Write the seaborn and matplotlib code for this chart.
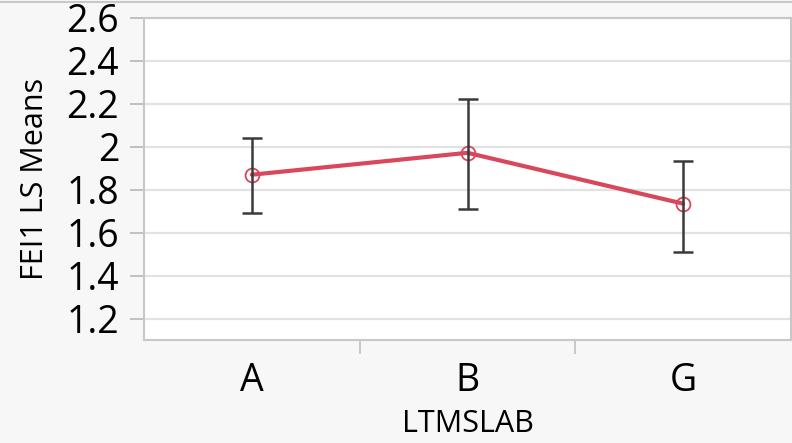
import numpy as np
import pandas as pd
import matplotlib
matplotlib.use("Agg")
import matplotlib.pyplot as plt
import seaborn as sns
from matplotlib.ticker import FixedLocator, FixedFormatter
from matplotlib.lines import Line2D

categories = ["A", "B", "G"]
means = [1.870, 1.972, 1.735]
lower = [1.693, 1.712, 1.512]
upper = [2.042, 2.222, 1.935]
ytick_values = [1.2, 1.4, 1.6, 1.8, 2.0, 2.2, 2.4, 2.6]
ytick_labels = ["1.2", "1.4", "1.6", "1.8", "2", "2.2", "2.4", "2.6"]

sns.set_theme(style="white")
plt.rcParams["font.family"] = ["Open Sans", "DejaVu Sans"]

df = pd.DataFrame({"LTMSLAB": categories, "mean": means})

fig = plt.figure(figsize=(7.92, 4.43), dpi=100, facecolor="#f7f7f7")
ax = fig.add_axes([144/792, 103/443, 647/792, 322/443])
ax.set_facecolor("white")

red = "#d9475c"
sns.pointplot(data=df, x="LTMSLAB", y="mean", color=red, errorbar=None,
              markers="o", linestyles="-", ax=ax,
              markerfacecolor="none", markeredgecolor=red, markersize=10,
              markeredgewidth=1.3, linewidth=3, zorder=3)

pos = np.arange(len(categories))
m = np.array(means)
ax.errorbar(pos, m, yerr=[m - np.array(lower), np.array(upper) - m],
            fmt="none", ecolor="#3a3a3a", elinewidth=1.8, capsize=7,
            capthick=1.8, zorder=4)

ax.set_xlim(-0.5, len(categories) - 0.5)
ax.set_ylim(1.1, 2.6)
ax.yaxis.set_major_locator(FixedLocator(ytick_values))
ax.yaxis.set_major_formatter(FixedFormatter(ytick_labels))
ax.grid(axis="y", color="#e2e2e2", linewidth=1.6, zorder=0)
ax.set_axisbelow(True)

ax.xaxis.set_minor_locator(FixedLocator(pos[:-1] + 0.5))
ax.tick_params(axis="x", which="major", length=0, pad=16, labelsize=27,
               colors="black")
ax.tick_params(axis="x", which="minor", length=10, width=1.2,
               color="#c0c0c0", bottom=True, direction="out")
ax.tick_params(axis="y", which="major", length=10, width=1.4,
               color="#c0c0c0", left=True, direction="out", pad=8,
               labelsize=27, labelcolor="black")

for s in ax.spines.values():
    s.set_visible(True)
    s.set_color("#c8c8c8")
    s.set_linewidth(1.5)

ax.set_xlabel("LTMSLAB", fontsize=22, color="black", labelpad=6)
ax.set_ylabel("FEI1 LS Means", fontsize=22, color="black", labelpad=12)

fig.add_artist(Line2D([0, 1], [1 - 1.5/443, 1 - 1.5/443],
                      transform=fig.transFigure, color="#c8c8c8", lw=1.5))

fig.savefig("out.png", dpi=100, facecolor=fig.get_facecolor())
